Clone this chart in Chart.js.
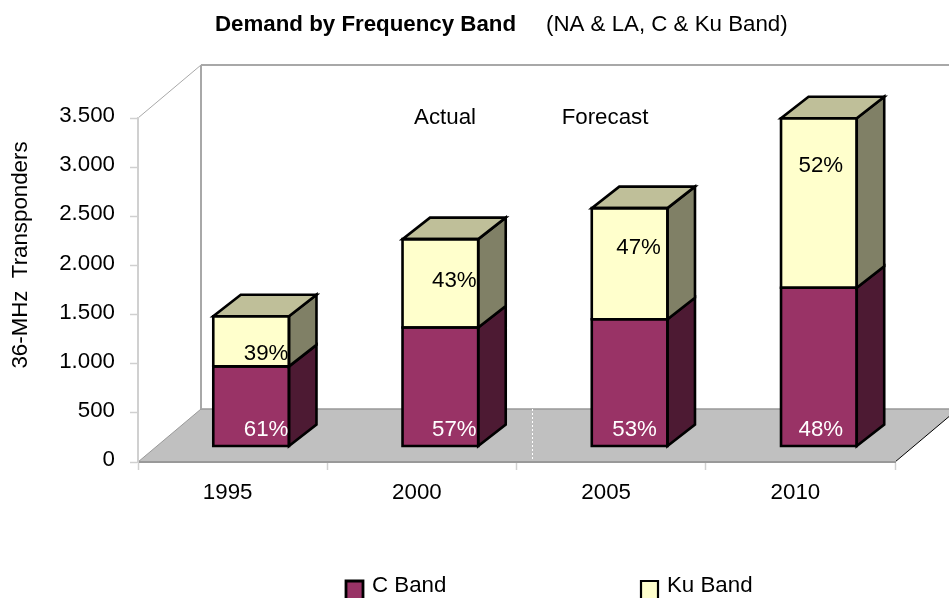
<!DOCTYPE html>
<html>
<head>
<meta charset="utf-8">
<style>html,body{margin:0;padding:0;background:#fff;overflow:hidden}canvas{display:block}</style>
<script src="https://cdn.jsdelivr.net/npm/chart.js@4/dist/chart.umd.min.js"></script>
</head>
<body>
<canvas id="c" width="949" height="598"></canvas>
<script>
const categories = ['1995', '2000', '2005', '2010'];
const cBand = [810, 1205, 1290, 1610];
const kuBand = [510, 900, 1130, 1725];
const cShare = ['61%', '57%', '53%', '48%'];
const kuShare = ['39%', '43%', '47%', '52%'];
const yTickLabels = ['0', '500', '1.000', '1.500', '2.000', '2.500', '3.000', '3.500'];

const FONT = '"Liberation Sans", Arial, sans-serif';
const FONT_PX = 22.3;

// Floor/wall depth, the inset of the bars into that depth, and the bars' own depth.
const ROOM = { dx: 63, dy: -53 };
const INSET = { dx: 18.5, dy: -16 };
const BAR = { dx: 27.5, dy: -21.5 };
// Share label placement relative to each bar: sideways shift, and height above the C segment top.
const C_LABEL_SHIFT = [15, 14, 5, 2];
const KU_LABEL_SHIFT = [15, 14, 9, 2];
const KU_LABEL_RAISE = [13, 47, 71, 122];

const COLORS = {
  cFront: '#993366', cSide: '#4D1A33',
  kuFront: '#FFFFCC', kuSide: '#808066', kuTop: '#BFBF99',
  floor: '#C0C0C0', wall: '#A8A8A8', axis: '#999999', tick: '#D0D0D0'
};

function poly(ctx, pts, fill, stroke, lw) {
  ctx.beginPath();
  pts.forEach((p, i) => i ? ctx.lineTo(p[0], p[1]) : ctx.moveTo(p[0], p[1]));
  ctx.closePath();
  if (fill) { ctx.fillStyle = fill; ctx.fill(); }
  if (stroke) { ctx.strokeStyle = stroke; ctx.lineWidth = lw; ctx.lineJoin = 'miter'; ctx.stroke(); }
}
function line(ctx, x1, y1, x2, y2, color, lw) {
  ctx.beginPath(); ctx.moveTo(x1, y1); ctx.lineTo(x2, y2);
  ctx.strokeStyle = color; ctx.lineWidth = lw; ctx.stroke();
}
function text(ctx, s, x, y, opts) {
  opts = opts || {};
  ctx.font = (opts.bold ? 'bold ' : '') + (opts.size || FONT_PX) + 'px ' + FONT;
  ctx.fillStyle = opts.color || '#000';
  ctx.textAlign = opts.align || 'center';
  ctx.textBaseline = 'middle';
  ctx.fillText(s, x, y);
}

const room = {
  id: 'room',
  beforeDraw(chart) {
    const { ctx, chartArea: a, scales: { x } } = chart;
    const { left: l, right: r, top: t, bottom: b } = a;
    const d = ROOM;
    ctx.save();
    // floor
    poly(ctx, [[l, b], [l + d.dx, b + d.dy], [r + d.dx, b + d.dy], [r, b]], COLORS.floor);
    line(ctx, l + d.dx, b + d.dy, r + d.dx, b + d.dy, COLORS.axis, 1.5);
    line(ctx, l, b, l + d.dx, b + d.dy, COLORS.axis, 1);
    line(ctx, r, b, r + d.dx, b + d.dy, '#000', 1);
    // back wall and side-wall edge
    line(ctx, l + d.dx, t + d.dy, l + d.dx, b + d.dy, COLORS.wall, 2);
    line(ctx, l + d.dx, t + d.dy, r + d.dx, t + d.dy, COLORS.wall, 2);
    line(ctx, l, t, l + d.dx, t + d.dy, COLORS.wall, 1);
    // Dotted divider between actual and forecast years
    const mid = (x.getPixelForTick(1) + x.getPixelForTick(2)) / 2;
    ctx.setLineDash([2, 2]);
    line(ctx, mid + 16, b + d.dy, mid + 16, b, '#FFFFFF', 1);
    ctx.setLineDash([]);
    ctx.restore();
  },
  beforeDatasetsDraw(chart) {
    chart.ctx.save();
    chart.ctx.translate(INSET.dx, INSET.dy);
  },
  afterDatasetsDraw(chart) {
    const { ctx, scales: { y } } = chart;
    const metaC = chart.getDatasetMeta(0), metaK = chart.getDatasetMeta(1);
    const lw = 2.6;
    const d = BAR;
    categories.forEach((_, i) => {
      const c = metaC.data[i], k = metaK.data[i];
      const left = c.x - c.width / 2, right = c.x + c.width / 2;
      const base = y.getPixelForValue(0);
      const yc = c.y, yk = k.y;
      // side faces, top face, then the front outlines on the bars' true edges
      poly(ctx, [[right, base], [right + d.dx, base + d.dy], [right + d.dx, yc + d.dy], [right, yc]], COLORS.cSide, '#000', lw);
      poly(ctx, [[right, yc], [right + d.dx, yc + d.dy], [right + d.dx, yk + d.dy], [right, yk]], COLORS.kuSide, '#000', lw);
      poly(ctx, [[left, yk], [right, yk], [right + d.dx, yk + d.dy], [left + d.dx, yk + d.dy]], COLORS.kuTop, '#000', lw);
      poly(ctx, [[left, yc], [right, yc], [right, base], [left, base]], null, '#000', lw);
      poly(ctx, [[left, yk], [right, yk], [right, yc], [left, yc]], null, '#000', lw);
    });
    ctx.restore();

    // Share labels sit on the visible front face of each bar
    categories.forEach((_, i) => {
      const c = metaC.data[i];
      text(ctx, cShare[i], c.x + INSET.dx + C_LABEL_SHIFT[i], y.getPixelForValue(0) + INSET.dy - 16, { color: '#FFFFFF' });
      text(ctx, kuShare[i], c.x + INSET.dx + KU_LABEL_SHIFT[i], c.y + INSET.dy - KU_LABEL_RAISE[i]);
    });
  },
  afterDraw(chart) {
    const { ctx } = chart;
    ctx.save();
    text(ctx, 'Demand by Frequency Band', 215, 24.5, { bold: true, align: 'left' });
    text(ctx, '(NA & LA, C & Ku Band)', 546, 24.5, { align: 'left' });
    text(ctx, 'Actual', 445, 117.5);
    text(ctx, 'Forecast', 605, 117.5);

    ctx.translate(21, 255);
    ctx.rotate(-Math.PI / 2);
    text(ctx, '36-MHz  Transponders', 0, 0);
    ctx.setTransform(1, 0, 0, 1, 0, 0);

    // Legend
    [[chart.data.datasets[0], 345, 2.8], [chart.data.datasets[1], 640, 2.2]].forEach(([ds, x, lw]) => {
      poly(ctx, [[x + 1, 581], [x + 18, 581], [x + 18, 602], [x + 1, 602]], ds.backgroundColor, '#000', lw);
      text(ctx, ds.label, x + 27, 586, { align: 'left' });
    });
    ctx.restore();
  }
};

new Chart(document.getElementById('c'), {
  type: 'bar',
  data: {
    labels: categories,
    datasets: [
      { label: 'C Band', data: cBand, backgroundColor: COLORS.cFront, borderWidth: 0, clip: false },
      { label: 'Ku Band', data: kuBand, backgroundColor: COLORS.kuFront, borderWidth: 0, clip: false }
    ]
  },
  options: {
    responsive: false,
    animation: false,
    devicePixelRatio: 1,
    layout: { padding: { left: 0, right: 54, top: 118, bottom: 0 } },
    plugins: { legend: { display: false }, title: { display: false }, tooltip: { enabled: false } },
    datasets: { bar: { categoryPercentage: 0.4, barPercentage: 1 } },
    scales: {
      x: {
        stacked: true,
        afterFit(s) { s.height = 136; },
        grid: { drawOnChartArea: false, color: COLORS.tick, tickLength: 8, tickWidth: 1.5 },
        border: { color: COLORS.axis, width: 2 },
        ticks: { color: '#000', font: { family: FONT, size: FONT_PX }, padding: 9, labelOffset: -5, maxRotation: 0 }
      },
      y: {
        stacked: true,
        min: 0,
        max: 3500,
        afterFit(s) { s.width = 138; },
        grid: { drawOnChartArea: false, color: COLORS.tick, tickLength: 8, tickWidth: 1.5 },
        border: { color: COLORS.tick, width: 2 },
        ticks: {
          stepSize: 500,
          color: '#000',
          font: { family: FONT, size: FONT_PX },
          padding: 15,
          labelOffset: -2,
          callback(value, index) { return yTickLabels[index]; }
        }
      }
    }
  },
  plugins: [room]
});
</script>
</body>
</html>
